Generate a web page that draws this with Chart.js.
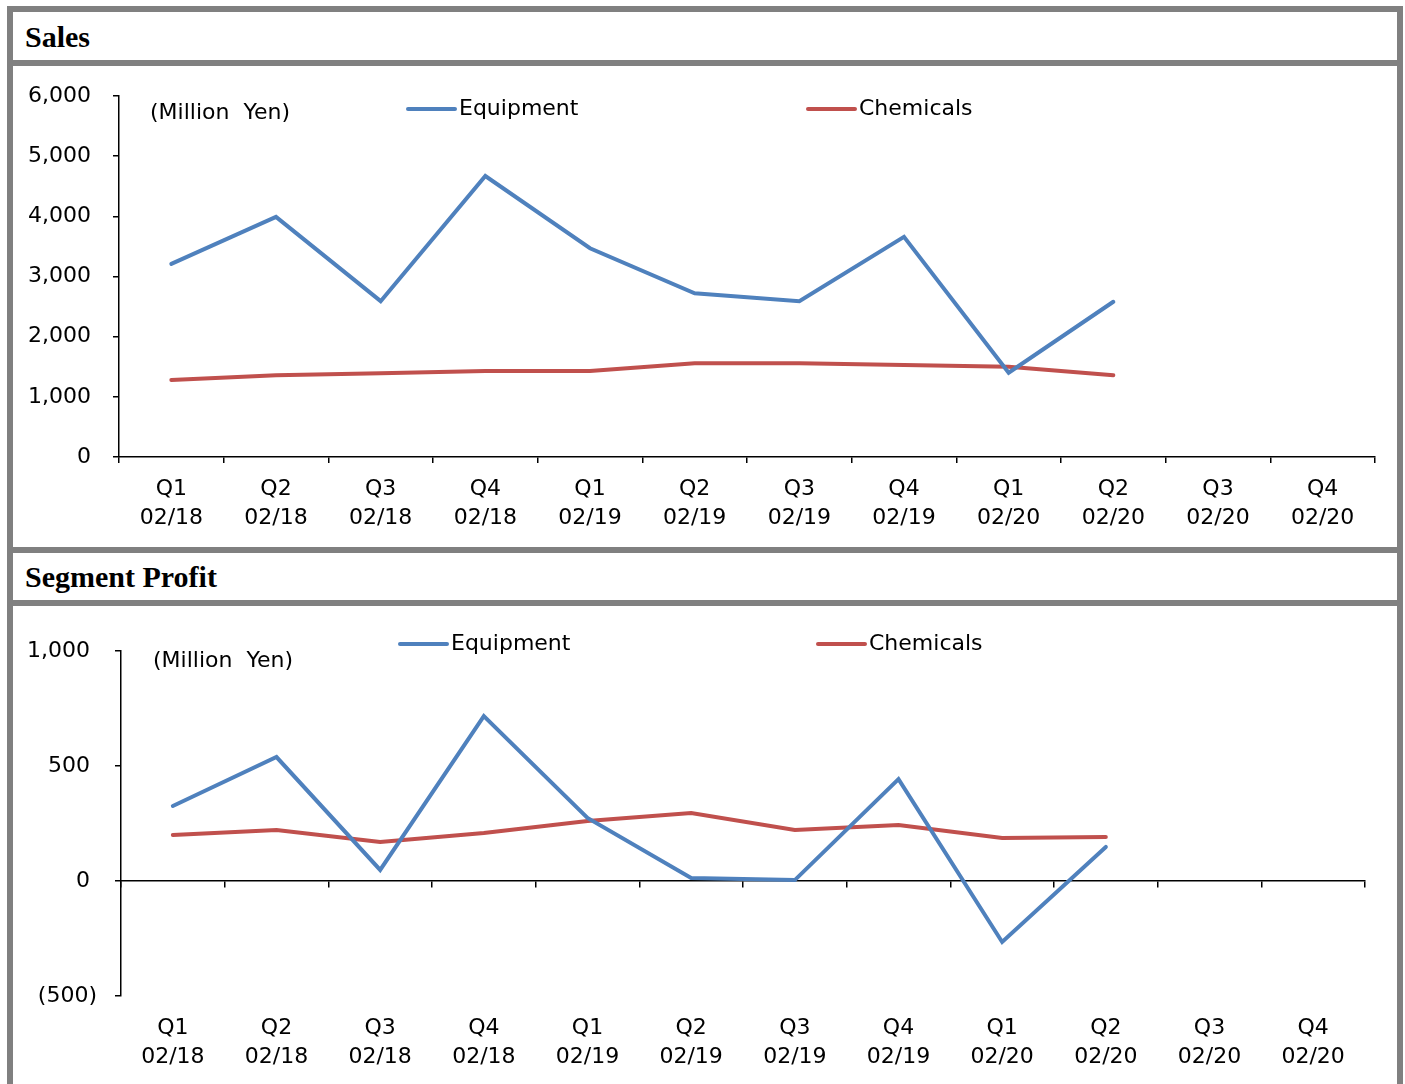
<!DOCTYPE html>
<html>
<head>
<meta charset="utf-8">
<title>Sales / Segment Profit</title>
<script src="https://cdn.jsdelivr.net/npm/chart.js@4.4.1/dist/chart.umd.min.js"></script>
<style>
  body { margin: 0; background: #fff; width: 1405px; height: 1084px; overflow: hidden; position: relative; }
  .bar { position: absolute; background: #808080; }
  .title { position: absolute; left: 25px; font-family: "Liberation Serif", serif; font-weight: bold; font-size: 30px; color: #000; }
  canvas { position: absolute; }
</style>
</head>
<body>
<div class="bar" style="left:7px;top:6px;width:1396px;height:6px"></div>
<div class="bar" style="left:7px;top:6px;width:6px;height:1080px"></div>
<div class="bar" style="left:1397px;top:6px;width:6px;height:1080px"></div>
<div class="bar" style="left:7px;top:60px;width:1396px;height:6px"></div>
<div class="bar" style="left:7px;top:547px;width:1396px;height:6px"></div>
<div class="bar" style="left:7px;top:600px;width:1396px;height:6px"></div>

<div class="title" style="top:20px">Sales</div>
<div class="title" style="top:560px">Segment Profit</div>

<canvas id="salesChart" width="1384" height="481" style="left:13px;top:66px"></canvas>
<canvas id="profitChart" width="1384" height="478" style="left:13px;top:606px"></canvas>

<script>
// quarters on the x axis
const quarters = [
    ["Q1", "02/18"], ["Q2", "02/18"], ["Q3", "02/18"], ["Q4", "02/18"],
    ["Q1", "02/19"], ["Q2", "02/19"], ["Q3", "02/19"], ["Q4", "02/19"],
    ["Q1", "02/20"], ["Q2", "02/20"], ["Q3", "02/20"], ["Q4", "02/20"]
];

// Sales (Million Yen)
const salesEquipment = [3210, 3990, 2590, 4670, 3470, 2720, 2590, 3660, 1400, 2580, null, null];
const salesChemicals = [1280, 1360, 1390, 1430, 1430, 1560, 1560, 1530, 1500, 1360, null, null];
const salesTicks = { min: 0, max: 6000, step: 1000 };

// Segment profit (Million Yen)
const profitEquipment = [326, 539, 48, 717, 274, 13, 4, 443, -265, 148, null, null];
const profitChemicals = [200, 222, 170, 209, 261, 296, 222, 243, 187, 191, null, null];
const profitTicks = { min: -500, max: 1000, step: 500 };

const seriesNames = ["Equipment", "Chemicals"];
const unitNote = "(Million  Yen)";

const BLUE = "#4F81BD";
const RED = "#C0504D";
const FONT = { family: "'DejaVu Sans', sans-serif", size: 22, lineHeight: 1.3 };

Chart.defaults.font.family = FONT.family;
Chart.defaults.font.size = FONT.size;
Chart.defaults.font.lineHeight = FONT.lineHeight;
Chart.defaults.color = "#000";

// formato tipo Excel: 1,000 y (500)
function fmt(v) {
    const s = Math.abs(v).toLocaleString("en-US");
    return v < 0 ? "(" + s + ")" : s + " ";
}

// leyenda y nota de unidades dibujadas dentro del área
const legendNote = {
    id: "legendNote",
    afterDraw(chart, args, opts) {
        const ctx = chart.ctx;
        ctx.save();
        ctx.font = FONT.size + "px " + FONT.family;
        ctx.fillStyle = "#000";
        ctx.textBaseline = "middle";
        ctx.textAlign = "left";
        ctx.fillText(opts.note, opts.noteX, opts.noteY);
        chart.data.datasets.forEach((ds, i) => {
            const it = opts.items[i];
            ctx.strokeStyle = ds.borderColor;
            ctx.lineWidth = 4;
            ctx.lineCap = "round";
            ctx.beginPath();
            ctx.moveTo(it.x, it.y);
            ctx.lineTo(it.x + 47, it.y);
            ctx.stroke();
            ctx.fillText(ds.label, it.x + 51, it.y);
        });
        ctx.restore();
    }
};

function lineSet(label, data, color) {
    return {
        label: label,
        data: data,
        borderColor: color,
        backgroundColor: color,
        borderWidth: 4,
        borderCapStyle: "round",
        borderJoinStyle: "miter",
        pointRadius: 0,
        tension: 0,
        spanGaps: false
    };
}

const axisLine = { color: "#000", width: 1.5 };
const tickGrid = { drawOnChartArea: false, drawTicks: true, tickLength: 6, color: "#000", lineWidth: 1.5 };

// ---- Sales ----
new Chart(document.getElementById("salesChart"), {
    type: "line",
    data: {
        labels: quarters,
        datasets: [
            lineSet(seriesNames[0], salesEquipment, BLUE),
            lineSet(seriesNames[1], salesChemicals, RED)
        ]
    },
    options: {
        responsive: false,
        animation: false,
        layout: { padding: { top: 30, right: 22, bottom: 0, left: 0 } },
        plugins: {
            legend: { display: false },
            tooltip: { enabled: false },
            legendNote: {
                note: unitNote, noteX: 137, noteY: 47,
                items: [{ x: 395, y: 43 }, { x: 795, y: 43 }]
            }
        },
        scales: {
            x: {
                type: "category",
                offset: true,
                grid: Object.assign({ offset: true }, tickGrid),
                border: axisLine,
                ticks: { maxRotation: 0, autoSkip: false, padding: 12 },
                afterFit: (s) => { s.height = 90; }
            },
            y: {
                min: salesTicks.min,
                max: salesTicks.max,
                grid: tickGrid,
                border: axisLine,
                ticks: { stepSize: salesTicks.step, padding: 15, callback: (v) => fmt(v) },
                afterFit: (s) => { s.width = 106; }
            }
        }
    },
    plugins: [legendNote]
});

// ---- Segment Profit ----
new Chart(document.getElementById("profitChart"), {
    type: "line",
    data: {
        labels: quarters,
        datasets: [
            lineSet(seriesNames[0], profitEquipment, BLUE),
            lineSet(seriesNames[1], profitChemicals, RED)
        ]
    },
    options: {
        responsive: false,
        animation: false,
        layout: { padding: { top: 45, right: 32, bottom: 0, left: 0 } },
        plugins: {
            legend: { display: false },
            tooltip: { enabled: false },
            legendNote: {
                note: unitNote, noteX: 140, noteY: 55,
                items: [{ x: 387, y: 38 }, { x: 805, y: 38 }]
            }
        },
        scales: {
            x: {
                type: "category",
                position: { y: 0 },
                offset: true,
                grid: Object.assign({ offset: true }, tickGrid),
                border: axisLine,
                ticks: { display: false }
            },
            xLabels: {
                type: "category",
                position: "bottom",
                offset: true,
                grid: { display: false, drawTicks: false },
                border: { display: false },
                ticks: { maxRotation: 0, autoSkip: false, padding: 18 },
                afterFit: (s) => { s.height = 88; }
            },
            y: {
                min: profitTicks.min,
                max: profitTicks.max,
                grid: tickGrid,
                border: axisLine,
                ticks: { stepSize: profitTicks.step, padding: 18, callback: (v) => fmt(v) },
                afterFit: (s) => { s.width = 108; }
            }
        }
    },
    plugins: [legendNote]
});
</script>
</body>
</html>
